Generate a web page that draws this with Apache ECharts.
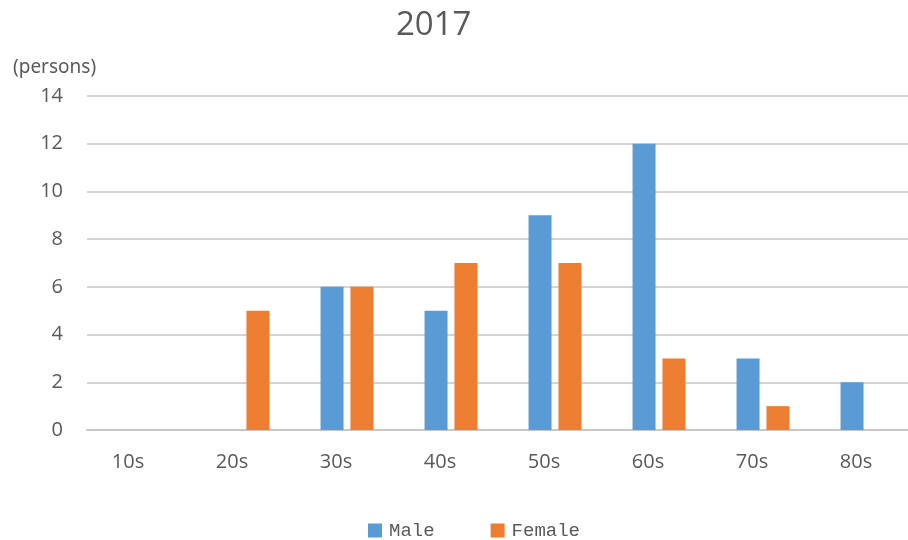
<!DOCTYPE html>
<html>
<head>
<meta charset="utf-8">
<script src="https://cdn.jsdelivr.net/npm/echarts@6/dist/echarts.min.js"></script>
<style>
  html, body { margin: 0; padding: 0; background: #ffffff; }
  #chart { width: 908px; height: 540px; }
</style>
</head>
<body>
<div id="chart"></div>
<script>
// Age groups and head counts by sex
const ageGroups = ['10s', '20s', '30s', '40s', '50s', '60s', '70s', '80s'];
const maleCounts = [0, 0, 6, 5, 9, 12, 3, 2];
const femaleCounts = [0, 5, 6, 7, 7, 3, 1, 0];
const yTicks = { min: 0, max: 14, interval: 2 };

const textColor = '#595959';
const gridColor = '#D8D3D3';

const chart = echarts.init(document.getElementById('chart'));
chart.setOption({
  animation: false,
  backgroundColor: '#ffffff',
  title: [
    {
      text: '2017',
      left: 391,
      top: 4,
      textStyle: { fontFamily: 'Open Sans', fontSize: 33, fontWeight: 'normal', color: textColor }
    },
    {
      text: '(persons)',
      left: 8,
      top: 53,
      textStyle: { fontFamily: 'Noto Sans', fontSize: 19, fontWeight: 'normal', color: textColor }
    }
  ],
  legend: {
    left: 363,
    top: 516,
    icon: 'rect',
    itemWidth: 14,
    itemHeight: 14,
    itemGap: 56,
    textStyle: { fontFamily: 'Liberation Mono', fontSize: 19, color: textColor, padding: [0, 0, 0, 2] },
    data: ['Male', 'Female']
  },
  // the plot area runs a little past the right edge of the canvas
  grid: { left: 87, width: 832, top: 96, bottom: 110, containLabel: false, outerBoundsMode: 'none' },
  xAxis: {
    type: 'category',
    data: ageGroups,
    axisTick: { show: false },
    axisLine: { lineStyle: { color: '#CCC6C6', width: 2 } },
    axisLabel: {
      margin: 22,
      padding: [0, 22, 0, 0],
      fontFamily: 'Open Sans',
      fontSize: 20,
      color: textColor
    }
  },
  yAxis: {
    type: 'value',
    min: yTicks.min,
    max: yTicks.max,
    interval: yTicks.interval,
    axisLine: { show: false },
    axisTick: { show: false },
    splitLine: { lineStyle: { color: gridColor, width: 2 } },
    axisLabel: {
      margin: 24,
      fontFamily: 'Open Sans',
      fontSize: 20,
      color: textColor
    }
  },
  series: [
    {
      name: 'Male',
      type: 'bar',
      data: maleCounts,
      barWidth: 23,
      barGap: '30%',
      itemStyle: { color: '#5B9BD5' }
    },
    {
      name: 'Female',
      type: 'bar',
      data: femaleCounts,
      barWidth: 23,
      barGap: '30%',
      itemStyle: { color: '#ED7D31' }
    }
  ]
});
</script>
</body>
</html>
